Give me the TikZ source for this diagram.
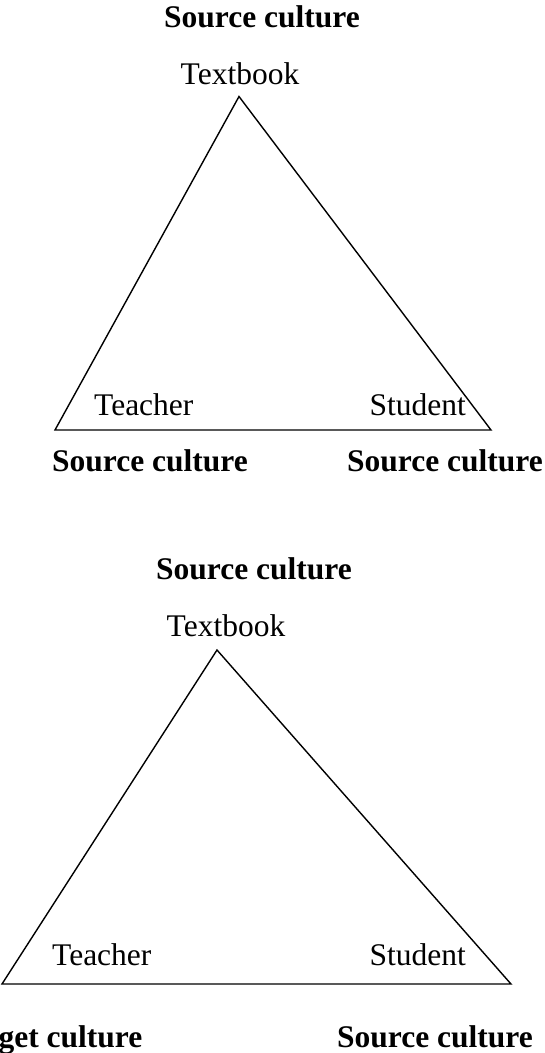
\documentclass[tikz,border=0pt]{standalone}
\usepackage{fontspec}
\setmainfont{Liberation Serif}
\begin{document}
\begin{tikzpicture}[x=1pt,y=-1pt,
  lbl/.style={inner sep=0pt,anchor=base,font=\fontsize{31.5}{36}\selectfont},
  cult/.style={lbl,font=\fontsize{31.5}{36}\selectfont\bfseries},
  tri/.style={line width=1.4pt,line join=miter}]
\useasboundingbox (0,0) rectangle (545,1053);
% top diagram
\node[cult] (c1) at (262,27) {Source culture};
\node[lbl] (tb1) at (240,84.5) {Textbook};
\coordinate (a1) at (239,96.5);
\coordinate (l1) at (55,430);
\coordinate (r1) at (491,430);
\draw[tri] (a1) -- (l1) -- (r1) -- cycle;
\node[lbl,anchor=base west] (te1) at (94,415) {Teacher};
\node[lbl,anchor=base east] (st1) at (466,415) {Student};
\node[cult] (c2) at (150,471) {Source culture};
\node[cult] (c3) at (445,471) {Source culture};
% bottom diagram
\node[cult] (c4) at (254,579) {Source culture};
\node[lbl] (tb2) at (226,636.5) {Textbook};
\coordinate (a2) at (217,650);
\coordinate (l2) at (2,984);
\coordinate (r2) at (511,984);
\draw[tri] (a2) -- (l2) -- (r2) -- cycle;
\node[lbl,anchor=base west] (te2) at (52,965) {Teacher};
\node[lbl,anchor=base east] (st2) at (466,965) {Student};
\node[cult,anchor=base east] (c5) at (142.5,1047) {Target culture};
\node[cult,anchor=base east] (c6) at (533,1047) {Source culture};
\end{tikzpicture}
\end{document}
